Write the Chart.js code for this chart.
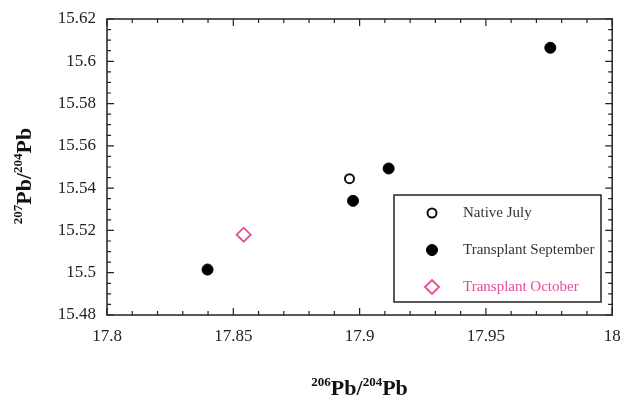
<!DOCTYPE html>
<html>
<head>
<meta charset="utf-8">
<script src="https://cdn.jsdelivr.net/npm/chart.js@4"></script>
<style>
  html, body { margin: 0; padding: 0; background: #fff; }
  #wrap { width: 621px; height: 398px; position: relative; }
</style>
</head>
<body>
<div id="wrap"><canvas id="pb-chart"></canvas></div>
<script>
// Pb isotope ratios
const nativeJuly = [{ x: 17.896, y: 15.5445 }];
const transplantSept = [
    { x: 17.8398, y: 15.5015 },
    { x: 17.8974, y: 15.534 },
    { x: 17.9115, y: 15.5493 },
    { x: 17.9755, y: 15.6064 }
];
const transplantOct = [{ x: 17.8541, y: 15.518 }];
const seriesNames = ['Native July', 'Transplant September', 'Transplant October'];

const xRange = [17.8, 18];
const yRange = [15.48, 15.62];

const pink = '#ec4a9c';
const serif = '"Liberation Serif", "Times New Roman", serif';

// strip trailing zeros like the original (15.6, 18)
const fmt = v => String(parseFloat(v.toFixed(3)));

// frame, inward major/minor ticks, legend box and axis titles
const decorations = {
    id: 'decorations',
    afterDraw(chart) {
        const { ctx, chartArea: a, scales } = chart;
        const xs = scales.x, ys = scales.y;
        ctx.save();
        ctx.strokeStyle = '#222';
        ctx.lineWidth = 1.5;
        ctx.strokeRect(a.left, a.top, a.right - a.left, a.bottom - a.top);

        ctx.lineWidth = 1.2;
        ctx.beginPath();
        for (let i = 0; i <= 20; i++) {
            const px = xs.getPixelForValue(xRange[0] + i * 0.01);
            const len = i % 5 === 0 ? 7 : 4;
            ctx.moveTo(px, a.bottom); ctx.lineTo(px, a.bottom - len);
            ctx.moveTo(px, a.top); ctx.lineTo(px, a.top + len);
        }
        for (let i = 0; i <= 28; i++) {
            const py = ys.getPixelForValue(yRange[0] + i * 0.005);
            const len = i % 4 === 0 ? 7 : 4;
            ctx.moveTo(a.left, py); ctx.lineTo(a.left + len, py);
            ctx.moveTo(a.right, py); ctx.lineTo(a.right - len, py);
        }
        ctx.stroke();

        // legend box inside the plot
        const box = { x: 394, y: 195, w: 207, h: 107 };
        ctx.lineWidth = 1.5;
        ctx.strokeStyle = '#222';
        ctx.fillStyle = '#fff';
        ctx.fillRect(box.x, box.y, box.w, box.h);
        ctx.strokeRect(box.x, box.y, box.w, box.h);
        ctx.font = '15px ' + serif;
        ctx.textBaseline = 'middle';
        chart.data.datasets.forEach((ds, i) => {
            const cy = box.y + 18 + i * 37;
            const cx = box.x + 38;
            ctx.lineWidth = ds.borderWidth;
            ctx.strokeStyle = ds.borderColor;
            ctx.fillStyle = ds.backgroundColor;
            Chart.helpers.drawPoint(ctx, {
                pointStyle: ds.pointStyle,
                radius: ds.pointRadius,
                borderWidth: ds.borderWidth
            }, cx, cy);
            ctx.fillStyle = ds.labelColor;
            ctx.textAlign = 'left';
            ctx.fillText(ds.label, box.x + 69, cy);
        });

        // axis titles with superscripts
        const drawTitle = (parts, x, y) => {
            let w = 0;
            parts.forEach(p => {
                ctx.font = (p.sup ? 'bold 13px ' : 'bold 22px ') + serif;
                w += ctx.measureText(p.t).width;
            });
            let cx = x - w / 2;
            ctx.textAlign = 'left';
            ctx.textBaseline = 'alphabetic';
            ctx.fillStyle = '#111';
            parts.forEach(p => {
                ctx.font = (p.sup ? 'bold 13px ' : 'bold 22px ') + serif;
                ctx.fillText(p.t, cx, p.sup ? y - 9 : y);
                cx += ctx.measureText(p.t).width;
            });
        };
        drawTitle([{ t: '206', sup: true }, { t: 'Pb/' }, { t: '204', sup: true }, { t: 'Pb' }],
            (a.left + a.right) / 2, 395);
        ctx.save();
        ctx.translate(31, 176);
        ctx.rotate(-Math.PI / 2);
        drawTitle([{ t: '207', sup: true }, { t: 'Pb/' }, { t: '204', sup: true }, { t: 'Pb' }], 0, 0);
        ctx.restore();
        ctx.restore();
    }
};

new Chart(document.getElementById('pb-chart'), {
    type: 'scatter',
    data: {
        datasets: [{
            label: seriesNames[0],
            data: nativeJuly,
            pointStyle: 'circle',
            pointRadius: 4.5,
            borderWidth: 2,
            borderColor: '#111',
            backgroundColor: '#fff',
            labelColor: '#333'
        }, {
            label: seriesNames[1],
            data: transplantSept,
            pointStyle: 'circle',
            pointRadius: 5.5,
            borderWidth: 1,
            borderColor: '#000',
            backgroundColor: '#000',
            labelColor: '#333'
        }, {
            label: seriesNames[2],
            data: transplantOct,
            pointStyle: 'rectRot',
            pointRadius: 7,
            borderWidth: 1.8,
            borderColor: pink,
            backgroundColor: '#fff',
            labelColor: pink
        }]
    },
    options: {
        responsive: true,
        maintainAspectRatio: false,
        animation: false,
        layout: { padding: { left: 0, right: 8, top: 19, bottom: 0 } },
        plugins: { legend: { display: false }, tooltip: { enabled: false } },
        scales: {
            x: {
                type: 'linear',
                min: xRange[0],
                max: xRange[1],
                border: { display: false },
                grid: { display: false, drawTicks: false },
                ticks: {
                    stepSize: 0.05,
                    padding: 11,
                    color: '#222',
                    font: { family: serif, size: 17 },
                    callback: fmt
                },
                afterFit(scale) {
                    scale.height = 83;
                    scale.paddingLeft = 0;
                    scale.paddingRight = 0;
                }
            },
            y: {
                type: 'linear',
                min: yRange[0],
                max: yRange[1],
                border: { display: false },
                grid: { display: false, drawTicks: false },
                ticks: {
                    stepSize: 0.02,
                    padding: 11,
                    color: '#222',
                    font: { family: serif, size: 17 },
                    callback: fmt
                },
                afterFit(scale) {
                    scale.width = 107;
                    scale.paddingTop = 0;
                    scale.paddingBottom = 0;
                }
            }
        }
    },
    plugins: [decorations]
});
</script>
</body>
</html>
